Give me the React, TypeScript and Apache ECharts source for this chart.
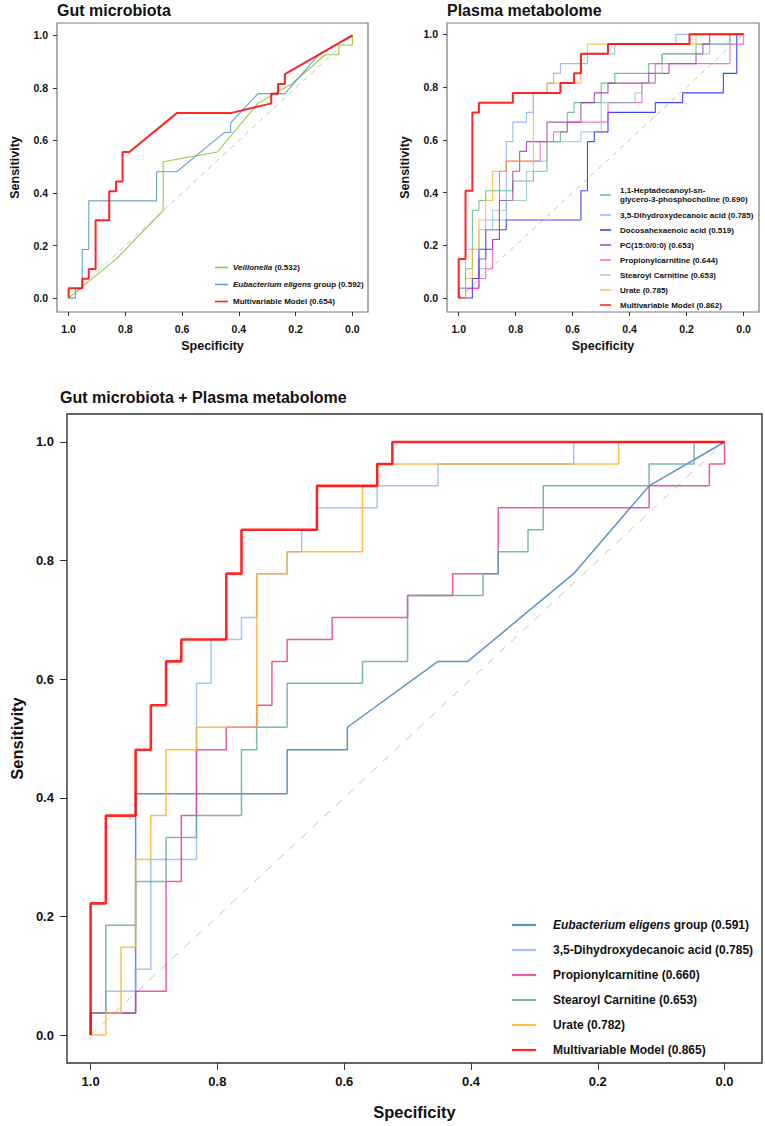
import React, { useEffect, useRef } from "react";
import * as echarts from "echarts";

const TICKS = [0, 0.2, 0.4, 0.6, 0.8, 1];
const DIAGONAL = [[1, 0], [0, 1]];
const FONT = "'Liberation Sans', Arial, Helvetica, sans-serif";

// ---- Panel A: Gut microbiota (specificity, sensitivity) ----
const gutVeillonella = [[1, 0], [0.833, 0.148], [0.667, 0.333], [0.667, 0.519], [0.476, 0.556], [0.333, 0.741], [0.214, 0.815], [0.095, 0.926], [0.048, 0.926], [0.048, 0.963], [0, 0.963], [0, 1]];
const gutEubacterium = [[1, 0], [0.976, 0], [0.976, 0.037], [0.952, 0.037], [0.952, 0.185], [0.929, 0.185], [0.929, 0.37], [0.69, 0.37], [0.69, 0.481], [0.619, 0.481], [0.452, 0.63], [0.429, 0.63], [0.429, 0.667], [0.333, 0.778], [0.238, 0.778], [0.119, 0.926], [0, 1]];
const gutModel = [[1, 0], [1, 0.037], [0.952, 0.037], [0.952, 0.074], [0.929, 0.074], [0.929, 0.111], [0.905, 0.111], [0.905, 0.296], [0.857, 0.296], [0.857, 0.407], [0.833, 0.407], [0.833, 0.444], [0.81, 0.444], [0.81, 0.556], [0.786, 0.556], [0.619, 0.704], [0.429, 0.704], [0.286, 0.741], [0.286, 0.778], [0.262, 0.778], [0.262, 0.815], [0.238, 0.815], [0.238, 0.852], [0, 1]];

// ---- Panel B: Plasma metabolome ----
const plasmaHeptadecanoyl = [[1, 0], [1, 0.037], [0.976, 0.037], [0.976, 0.111], [0.952, 0.111], [0.952, 0.333], [0.929, 0.333], [0.929, 0.37], [0.905, 0.37], [0.905, 0.407], [0.81, 0.407], [0.81, 0.444], [0.738, 0.444], [0.738, 0.481], [0.69, 0.481], [0.69, 0.593], [0.643, 0.593], [0.643, 0.63], [0.619, 0.63], [0.619, 0.704], [0.595, 0.704], [0.595, 0.741], [0.5, 0.741], [0.5, 0.815], [0.452, 0.815], [0.452, 0.852], [0.333, 0.852], [0.333, 0.889], [0.286, 0.889], [0.286, 0.926], [0.167, 0.926], [0.167, 0.963], [0.048, 0.963], [0.048, 1], [0, 1]];
const plasmaDihydroxy = [[1, 0], [1, 0.037], [0.976, 0.037], [0.976, 0.074], [0.929, 0.074], [0.929, 0.111], [0.905, 0.111], [0.905, 0.296], [0.833, 0.296], [0.833, 0.593], [0.81, 0.593], [0.81, 0.667], [0.762, 0.667], [0.762, 0.704], [0.738, 0.704], [0.738, 0.778], [0.69, 0.778], [0.69, 0.815], [0.667, 0.815], [0.667, 0.852], [0.643, 0.852], [0.643, 0.889], [0.548, 0.889], [0.548, 0.926], [0.452, 0.926], [0.452, 0.963], [0.238, 0.963], [0.238, 1], [0, 1]];
const plasmaDocosahexaenoic = [[1, 0], [0.952, 0], [0.952, 0.074], [0.929, 0.074], [0.929, 0.185], [0.881, 0.185], [0.881, 0.222], [0.857, 0.222], [0.857, 0.259], [0.833, 0.259], [0.833, 0.296], [0.571, 0.296], [0.571, 0.407], [0.548, 0.407], [0.548, 0.593], [0.524, 0.593], [0.524, 0.63], [0.476, 0.63], [0.476, 0.704], [0.31, 0.704], [0.31, 0.741], [0.214, 0.741], [0.214, 0.778], [0.071, 0.778], [0.071, 0.852], [0.024, 0.852], [0.024, 1], [0, 1]];
const plasmaPC = [[1, 0], [0.976, 0], [0.976, 0.037], [0.929, 0.037], [0.929, 0.148], [0.905, 0.148], [0.905, 0.259], [0.857, 0.259], [0.857, 0.37], [0.81, 0.37], [0.81, 0.481], [0.786, 0.481], [0.786, 0.556], [0.762, 0.556], [0.762, 0.593], [0.69, 0.593], [0.69, 0.667], [0.571, 0.667], [0.571, 0.741], [0.524, 0.741], [0.524, 0.778], [0.476, 0.778], [0.476, 0.815], [0.333, 0.815], [0.333, 0.852], [0.262, 0.852], [0.262, 0.889], [0.167, 0.889], [0.167, 0.926], [0.143, 0.926], [0.143, 0.963], [0.119, 0.963], [0.119, 1], [0, 1]];
const plasmaPropionyl = [[1, 0], [0.976, 0], [0.976, 0.037], [0.929, 0.037], [0.929, 0.074], [0.905, 0.074], [0.905, 0.111], [0.881, 0.111], [0.881, 0.222], [0.857, 0.222], [0.857, 0.481], [0.833, 0.481], [0.833, 0.519], [0.714, 0.519], [0.714, 0.593], [0.667, 0.593], [0.667, 0.63], [0.619, 0.63], [0.619, 0.667], [0.476, 0.667], [0.476, 0.741], [0.357, 0.741], [0.357, 0.815], [0.31, 0.815], [0.31, 0.889], [0.048, 0.889], [0.048, 0.963], [0, 0.963], [0, 1]];
const plasmaStearoyl = [[1, 0], [1, 0.037], [0.976, 0.037], [0.976, 0.185], [0.929, 0.185], [0.929, 0.259], [0.881, 0.259], [0.881, 0.333], [0.833, 0.333], [0.833, 0.37], [0.762, 0.37], [0.762, 0.481], [0.738, 0.481], [0.738, 0.519], [0.69, 0.519], [0.69, 0.593], [0.571, 0.593], [0.571, 0.63], [0.5, 0.63], [0.5, 0.741], [0.381, 0.741], [0.381, 0.778], [0.357, 0.778], [0.357, 0.815], [0.31, 0.815], [0.31, 0.852], [0.286, 0.852], [0.286, 0.926], [0.119, 0.926], [0.119, 0.963], [0.048, 0.963], [0.048, 1], [0, 1]];
const plasmaUrate = [[1, 0], [0.976, 0], [0.976, 0.074], [0.952, 0.074], [0.952, 0.185], [0.929, 0.185], [0.929, 0.296], [0.905, 0.296], [0.905, 0.37], [0.881, 0.37], [0.881, 0.481], [0.833, 0.481], [0.833, 0.519], [0.738, 0.519], [0.738, 0.778], [0.69, 0.778], [0.69, 0.815], [0.571, 0.815], [0.571, 0.926], [0.548, 0.926], [0.548, 0.963], [0.167, 0.963], [0.167, 1], [0, 1]];
const plasmaModel = [[1, 0], [1, 0.148], [0.976, 0.148], [0.976, 0.407], [0.952, 0.407], [0.952, 0.704], [0.929, 0.704], [0.929, 0.741], [0.81, 0.741], [0.81, 0.778], [0.643, 0.778], [0.643, 0.815], [0.595, 0.815], [0.595, 0.852], [0.571, 0.852], [0.571, 0.926], [0.476, 0.926], [0.476, 0.963], [0.19, 0.963], [0.19, 1], [0, 1]];

// ---- Panel C: Gut microbiota + Plasma metabolome ----
const combEubacterium = [[1, 0], [1, 0.037], [0.929, 0.037], [0.929, 0.407], [0.69, 0.407], [0.69, 0.481], [0.595, 0.481], [0.595, 0.519], [0.452, 0.63], [0.405, 0.63], [0.238, 0.778], [0.119, 0.926], [0, 1]];
const combDihydroxy = [[1, 0], [1, 0.037], [0.976, 0.037], [0.976, 0.074], [0.929, 0.074], [0.929, 0.111], [0.905, 0.111], [0.905, 0.296], [0.833, 0.296], [0.833, 0.593], [0.81, 0.593], [0.81, 0.667], [0.762, 0.667], [0.762, 0.704], [0.738, 0.704], [0.738, 0.778], [0.69, 0.778], [0.69, 0.815], [0.667, 0.815], [0.667, 0.852], [0.643, 0.852], [0.643, 0.889], [0.548, 0.889], [0.548, 0.926], [0.452, 0.926], [0.452, 0.963], [0.238, 0.963], [0.238, 1], [0, 1]];
const combPropionyl = [[1, 0], [1, 0.037], [0.929, 0.037], [0.929, 0.074], [0.881, 0.074], [0.881, 0.259], [0.857, 0.259], [0.857, 0.37], [0.833, 0.37], [0.833, 0.481], [0.786, 0.481], [0.786, 0.519], [0.738, 0.519], [0.738, 0.556], [0.714, 0.556], [0.714, 0.63], [0.69, 0.63], [0.69, 0.667], [0.619, 0.667], [0.619, 0.704], [0.5, 0.704], [0.5, 0.741], [0.429, 0.741], [0.429, 0.778], [0.357, 0.778], [0.357, 0.889], [0.119, 0.889], [0.119, 0.926], [0.024, 0.926], [0.024, 0.963], [0, 0.963], [0, 1]];
const combStearoyl = [[1, 0], [1, 0.037], [0.976, 0.037], [0.976, 0.185], [0.929, 0.185], [0.929, 0.259], [0.881, 0.259], [0.881, 0.333], [0.833, 0.333], [0.833, 0.37], [0.762, 0.37], [0.762, 0.481], [0.738, 0.481], [0.738, 0.519], [0.69, 0.519], [0.69, 0.593], [0.571, 0.593], [0.571, 0.63], [0.5, 0.63], [0.5, 0.741], [0.381, 0.741], [0.381, 0.778], [0.357, 0.778], [0.357, 0.815], [0.31, 0.815], [0.31, 0.852], [0.286, 0.852], [0.286, 0.926], [0.119, 0.926], [0.119, 0.963], [0.048, 0.963], [0.048, 1], [0, 1]];
const combUrate = [[1, 0], [0.976, 0], [0.976, 0.037], [0.952, 0.037], [0.952, 0.148], [0.929, 0.148], [0.929, 0.296], [0.905, 0.296], [0.905, 0.37], [0.881, 0.37], [0.881, 0.481], [0.833, 0.481], [0.833, 0.519], [0.738, 0.519], [0.738, 0.778], [0.69, 0.778], [0.69, 0.815], [0.571, 0.815], [0.571, 0.926], [0.548, 0.926], [0.548, 0.963], [0.167, 0.963], [0.167, 1], [0, 1]];
const combModel = [[1, 0], [1, 0.222], [0.976, 0.222], [0.976, 0.37], [0.929, 0.37], [0.929, 0.481], [0.905, 0.481], [0.905, 0.556], [0.881, 0.556], [0.881, 0.63], [0.857, 0.63], [0.857, 0.667], [0.786, 0.667], [0.786, 0.778], [0.762, 0.778], [0.762, 0.852], [0.643, 0.852], [0.643, 0.926], [0.548, 0.926], [0.548, 0.963], [0.524, 0.963], [0.524, 1], [0, 1]];

const PANEL_A_NAMES = ["Veillonella (0.532)", "Eubacterium eligens group (0.592)", "Multivariable Model (0.654)"];
const PANEL_B_NAMES = [
  "1,1-Heptadecanoyl-sn-\nglycero-3-phosphocholine (0.690)",
  "3,5-Dihydroxydecanoic acid (0.785)",
  "Docosahexaenoic acid (0.519)",
  "PC(15:0/0:0) (0.653)",
  "Propionylcarnitine (0.644)",
  "Stearoyl Carnitine (0.653)",
  "Urate (0.785)",
  "Multivariable Model (0.862)",
];
const PANEL_C_NAMES = [
  "Eubacterium eligens group (0.591)",
  "3,5-Dihydroxydecanoic acid (0.785) ",
  "Propionylcarnitine (0.660)",
  "Stearoyl Carnitine (0.653) ",
  "Urate (0.782)",
  "Multivariable Model (0.865)",
];

const RED = "rgba(255,0,0,0.85)";

const PANELS = [
  {
    grid: { left: 57, top: 23, width: 311, height: 289 },
    x: [-0.055, 1.041], y: [-0.053, 1.047],
    tickFs: 10.5, tickLen: 4, xMargin: 11, yMargin: 9, nameFs: 12.5, xNameGap: 27, yNameGap: 36,
    border: "#7a7a7a", diagDash: [5, 5], thin: 1.1, thick: 2,
    curves: [gutVeillonella, gutEubacterium, gutModel],
    names: PANEL_A_NAMES,
    colors: ["rgba(135,195,45,0.9)", "rgba(90,150,210,0.9)", RED],
    legend: { left: 215, top: 262, itemWidth: 13, itemHeight: 1.6, itemGap: 6, fontSize: 8, lineHeight: 11, pad: 0 },
  },
  {
    grid: { left: 447, top: 23, width: 312, height: 289 },
    x: [-0.054, 1.041], y: [-0.053, 1.043],
    tickFs: 10.5, tickLen: 4, xMargin: 11, yMargin: 9, nameFs: 12.5, xNameGap: 27, yNameGap: 36,
    border: "#7a7a7a", diagDash: [5, 5], thin: 1.1, thick: 2,
    curves: [plasmaHeptadecanoyl, plasmaDihydroxy, plasmaDocosahexaenoic, plasmaPC, plasmaPropionyl, plasmaStearoyl, plasmaUrate, plasmaModel],
    names: PANEL_B_NAMES,
    colors: [
      "rgba(60,175,110,0.75)", "rgba(110,160,245,0.7)", "rgba(20,20,255,0.8)", "rgba(140,30,160,0.75)",
      "rgba(232,60,170,0.7)", "rgba(120,185,185,0.65)", "rgba(255,175,30,0.75)", RED,
    ],
    legend: { left: 600, top: 185, itemWidth: 11, itemHeight: 1.6, itemGap: 5, fontSize: 8, lineHeight: 10, pad: 4 },
  },
  {
    grid: { left: 57, top: 414, width: 705, height: 649 },
    x: [-0.0591, 1.0373], y: [-0.0472, 1.0472],
    tickFs: 13, tickLen: 7, xMargin: 12, yMargin: 13, nameFs: 16.5, xNameGap: 40, yNameGap: 38,
    border: "#333333", diagDash: [8, 8], thin: 1.5, thick: 2.6,
    curves: [combEubacterium, combDihydroxy, combPropionyl, combStearoyl, combUrate, combModel],
    names: PANEL_C_NAMES,
    colors: [
      "rgba(66,126,192,0.85)", "rgba(125,170,245,0.7)", "rgba(222,50,150,0.8)",
      "rgba(90,165,160,0.8)", "rgba(255,175,30,0.8)", RED,
    ],
    legend: { left: 512, top: 918, itemWidth: 24, itemHeight: 2.2, itemGap: 11, fontSize: 12, lineHeight: 14, pad: 12 },
  },
];

const TITLES = [
  { text: "Gut microbiota", left: 57, top: 2 },
  { text: "Plasma metabolome", left: 447, top: 2 },
  { text: "Gut microbiota + Plasma metabolome", left: 60, top: 389 },
];

function italicize(name: string) {
  return name
    .replace("Veillonella", "{i|Veillonella}")
    .replace("Eubacterium eligens", "{i|Eubacterium eligens}");
}

function buildOption() {
  const grid: any[] = [];
  const xAxis: any[] = [];
  const yAxis: any[] = [];
  const series: any[] = [];
  const legend: any[] = [];

  PANELS.forEach((p, gi) => {
    grid.push({ ...p.grid, show: true, borderColor: p.border, borderWidth: gi === 2 ? 1.4 : 1.2, backgroundColor: "transparent" });
    const labelStyle = { fontSize: p.tickFs, fontWeight: "bold", color: "#111", fontFamily: FONT };
    const nameStyle = { fontSize: p.nameFs, fontWeight: "bold", color: "#111", fontFamily: FONT };
    xAxis.push({
      gridIndex: gi, type: "value", inverse: true, min: p.x[0], max: p.x[1], position: "bottom",
      axisLine: { show: false, onZero: false }, splitLine: { show: false },
      axisTick: { show: true, customValues: TICKS, length: p.tickLen, lineStyle: { color: "#333", width: 1 } },
      axisLabel: { ...labelStyle, customValues: TICKS, formatter: (v: number) => v.toFixed(1), margin: p.xMargin },
      name: "Specificity", nameLocation: "middle", nameGap: p.xNameGap, nameTextStyle: nameStyle,
    });
    yAxis.push({
      gridIndex: gi, type: "value", min: p.y[0], max: p.y[1], position: "left",
      axisLine: { show: false, onZero: false }, splitLine: { show: false },
      axisTick: { show: true, customValues: TICKS, length: p.tickLen, lineStyle: { color: "#333", width: 1 } },
      axisLabel: { ...labelStyle, customValues: TICKS, formatter: (v: number) => v.toFixed(1), margin: p.yMargin },
      name: "Sensitivity", nameLocation: "middle", nameGap: p.yNameGap, nameTextStyle: nameStyle,
    });
    series.push({
      type: "line", xAxisIndex: gi, yAxisIndex: gi, data: DIAGONAL, symbol: "none", silent: true, z: 1,
      lineStyle: { color: "#c4c4c4", width: 1, type: p.diagDash },
    });
    p.curves.forEach((c, ci) => {
      const isModel = ci === p.curves.length - 1;
      series.push({
        type: "line", name: p.names[ci], xAxisIndex: gi, yAxisIndex: gi, data: c,
        symbol: "none", showSymbol: false, silent: true, z: isModel ? 4 : 2,
        lineStyle: { color: p.colors[ci], width: isModel ? p.thick : p.thin },
        itemStyle: { color: p.colors[ci] },
      });
    });
    const L = p.legend;
    legend.push({
      data: p.names.map((n) => ({ name: n, icon: "rect" })), orient: "vertical", left: L.left, top: L.top, padding: 0,
      itemWidth: L.itemWidth, itemHeight: L.itemHeight, itemGap: L.itemGap, selectedMode: false,
      formatter: (n: string) => italicize(n),
      textStyle: {
        fontSize: L.fontSize, fontWeight: "bold", color: "#111", fontFamily: FONT, lineHeight: L.lineHeight,
        padding: [0, 0, 0, L.pad],
        rich: { i: { fontSize: L.fontSize, fontWeight: "bold", fontStyle: "italic", color: "#111", fontFamily: FONT, lineHeight: L.lineHeight } },
      },
    });
  });

  return {
    animation: false,
    backgroundColor: "#ffffff",
    textStyle: { fontFamily: FONT },
    title: TITLES.map((t) => ({
      text: t.text, left: t.left, top: t.top, padding: 0,
      textStyle: { fontSize: 16, fontWeight: "bold", color: "#111", fontFamily: FONT },
    })),
    grid, xAxis, yAxis, series, legend,
  };
}

export default function App() {
  const ref = useRef<HTMLDivElement>(null);
  useEffect(() => {
    if (!ref.current) return;
    const chart = echarts.init(ref.current, null, { renderer: "svg" });
    chart.setOption(buildOption() as any);
    return () => chart.dispose();
  }, []);
  return <div ref={ref} style={{ position: "absolute", left: 0, top: 0, width: 765, height: 1126 }} />;
}
